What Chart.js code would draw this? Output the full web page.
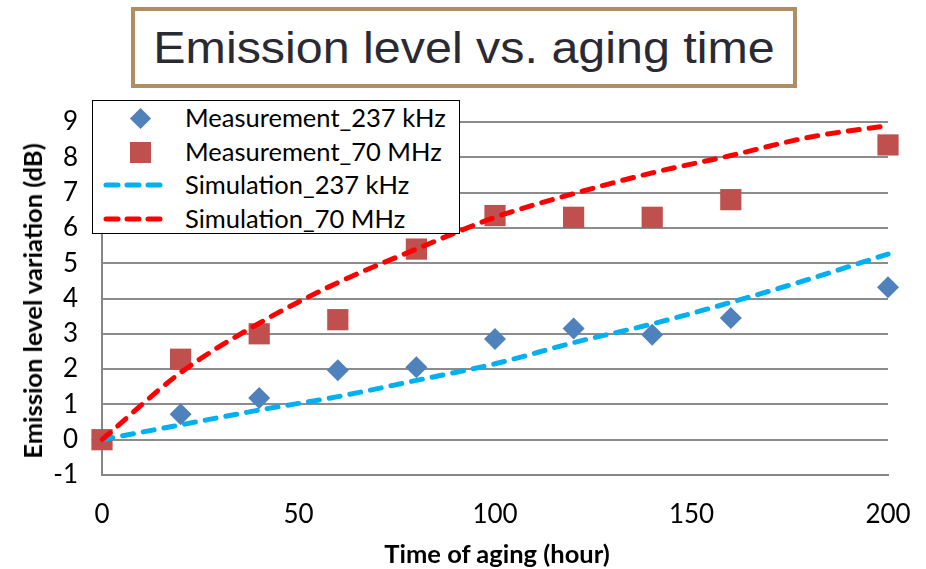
<!DOCTYPE html>
<html>
<head>
<meta charset="utf-8">
<script src="https://cdn.jsdelivr.net/npm/chart.js@4/dist/chart.umd.min.js"></script>
<style>
  html, body { margin:0; padding:0; background:#fff; }
  #wrap { position:relative; width:926px; height:569px; overflow:hidden; }
  canvas { position:absolute; left:0; top:0; }
  #title { position:absolute; left:131px; top:7px; width:658px; height:73px; border:4px solid #AE8E62;
    background:#fff; color:#2A2A33; text-align:center; }
  #title span { position:absolute; left:50%; top:50%; transform:translate(-50%,-50%) scaleX(1.1);
    font-family:"Liberation Sans", Arial, sans-serif; font-size:44px; white-space:nowrap; }
  #legend { position:absolute; left:92px; top:100px; width:366px; height:132px; border:1px solid #000; background:#fff;
    font-family:Lato, "Open Sans", sans-serif; font-size:25.5px; color:#000; }
  .row { position:absolute; left:0; height:30px; width:100%; }
  .row span { position:absolute; left:92px; top:-2px; white-space:nowrap; }
  .dia { position:absolute; left:40px; top:7px; width:15px; height:15px; background:#4F81BD; transform:rotate(45deg); }
  .sq { position:absolute; left:37px; top:4px; width:21px; height:21px; background:#C0504D; }
  .dash { position:absolute; left:10px; top:11px; width:68px; height:6px; }
  #ytitle { position:absolute; left:32px; top:301px; transform:translate(-50%,-50%) rotate(-90deg);
    font-family:Lato, "Open Sans", sans-serif; font-weight:bold; font-size:25.5px; white-space:nowrap; color:#000; }
  #xtitle { position:absolute; left:497px; top:553px; transform:translate(-50%,-50%);
    font-family:Lato, "Open Sans", sans-serif; font-weight:bold; font-size:25.5px; white-space:nowrap; color:#000; }
</style>
</head>
<body>
<div id="wrap">
  <canvas id="c" width="926" height="569"></canvas>
  <div id="title"><span>Emission level vs. aging time</span></div>
  <div id="ytitle">Emission level variation (dB)</div>
  <div id="xtitle">Time of aging (hour)</div>
  <div id="legend"></div>
</div>
<script>
// ---- data ----
const measHours = [0, 20, 40, 60, 80, 100, 120, 140, 160, 200];
const meas237kHz = [0, 0.72, 1.18, 1.97, 2.05, 2.85, 3.15, 2.97, 3.45, 4.32];
const meas70MHz  = [0, 2.28, 3.0, 3.4, 5.4, 6.35, 6.3, 6.3, 6.8, 8.35];
const simHours = [0, 20, 40, 60, 80, 100, 120, 140, 160, 180, 200];
const sim237kHz = [0, 0.42, 0.84, 1.22, 1.68, 2.15, 2.75, 3.28, 3.89, 4.55, 5.26];
const sim70MHz  = [0, 1.9, 3.3, 4.45, 5.4, 6.3, 6.97, 7.56, 8.05, 8.57, 8.9];
const seriesNames = ["Measurement_237 kHz", "Measurement_70 MHz", "Simulation_237 kHz", "Simulation_70 MHz"];
const xTicks = [0, 50, 100, 150, 200];
const yTicks = [-1, 0, 1, 2, 3, 4, 5, 6, 7, 8, 9];

const pts = (xs, ys) => xs.map((x, i) => ({x: x, y: ys[i]}));
const colors = { m1: "#4F81BD", m2: "#C0504D", s1: "#00B0F0", s2: "#FF0000" };

// legend (HTML)
const leg = document.getElementById('legend');
const icons = ['<div class="dia"></div>', '<div class="sq"></div>',
  '<svg class="dash" width="68" height="6"><line x1="3" y1="3" x2="65" y2="3" stroke="#00B0F0" stroke-width="5" stroke-dasharray="12 9" stroke-linecap="round"/></svg>',
  '<svg class="dash" width="68" height="6"><line x1="3" y1="3" x2="65" y2="3" stroke="#FF0000" stroke-width="5" stroke-dasharray="12 9" stroke-linecap="round"/></svg>'];
seriesNames.forEach((n, i) => {
  const r = document.createElement('div');
  r.className = 'row';
  r.style.top = (3 + i * 33.5) + 'px';
  r.innerHTML = icons[i] + '<span>' + n + '</span>';
  leg.appendChild(r);
});

const tickFont = { family: "Lato, 'Open Sans', sans-serif", size: 26 };
new Chart(document.getElementById('c'), {
  type: 'scatter',
  data: {
    datasets: [
      { label: seriesNames[0], data: pts(measHours, meas237kHz), pointStyle: 'rectRot', pointRadius: 11,
        backgroundColor: colors.m1, borderColor: colors.m1, borderWidth: 0, order: 4, clip: false },
      { label: seriesNames[1], data: pts(measHours, meas70MHz), pointStyle: 'rect', pointRadius: 15,
        backgroundColor: colors.m2, borderColor: colors.m2, borderWidth: 0, order: 3, clip: false },
      { label: seriesNames[2], data: pts(simHours, sim237kHz), showLine: true, borderColor: colors.s1, borderWidth: 5,
        borderDash: [11, 10], borderCapStyle: 'round', pointRadius: 0, cubicInterpolationMode: 'monotone', order: 2, clip: false },
      { label: seriesNames[3], data: pts(simHours, sim70MHz), showLine: true, borderColor: colors.s2, borderWidth: 5,
        borderDash: [11, 10], borderCapStyle: 'round', pointRadius: 0, cubicInterpolationMode: 'monotone', order: 1, clip: false }
    ]
  },
  options: {
    responsive: false, animation: false,
    layout: { padding: { left: 0, top: 122, right: 38, bottom: 0 } },
    plugins: { legend: { display: false }, tooltip: { enabled: false } },
    scales: {
      x: {
        type: 'linear', min: 0, max: 200,
        afterBuildTicks: (s) => { s.ticks = xTicks.map(v => ({ value: v })); },
        afterFit: (s) => { s.height = 94; s.paddingLeft = 0; s.paddingRight = 0; },
        grid: { display: false, drawTicks: false },
        border: { display: true, color: '#868686', width: 2 },
        ticks: { font: tickFont, color: '#000', padding: 24, maxRotation: 0 }
      },
      y: {
        min: -1, max: 9,
        afterBuildTicks: (s) => { s.ticks = yTicks.map(v => ({ value: v })); },
        afterFit: (s) => { s.width = 102; s.paddingTop = 0; s.paddingBottom = 0; },
        grid: { color: '#8C8C8C', lineWidth: 2, drawTicks: false },
        border: { display: true, color: '#868686', width: 2 },
        ticks: { font: tickFont, color: '#000', padding: 24 }
      }
    }
  }
});
</script>
</body>
</html>
